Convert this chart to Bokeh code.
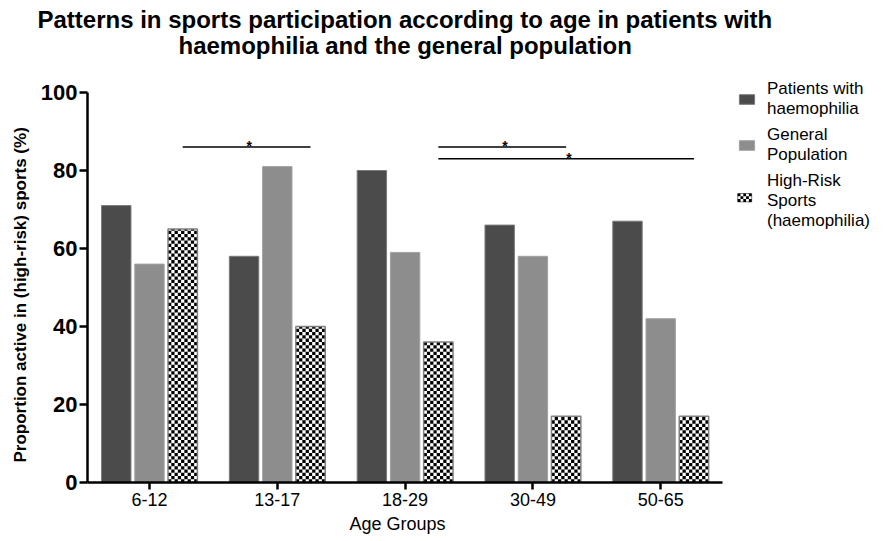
import math
from bokeh.plotting import figure
from bokeh.models import (Range1d, FixedTicker, ColumnDataSource, Legend, LegendItem, Title)
from bokeh.transform import dodge
from bokeh.core.properties import value
from bokeh.embed import file_html
from bokeh.resources import INLINE

# ---- data ----
age_groups = ["6-12", "13-17", "18-29", "30-49", "50-65"]
patients = [71, 58, 80, 66, 67]
general = [56, 81, 59, 58, 42]
high_risk = [65, 40, 36, 17, 17]
series_labels = ["Patients with\nhaemophilia", "General\nPopulation", "High-Risk\nSports\n(haemophilia)"]
y_ticks = [0, 20, 40, 60, 80, 100]
title_lines = ["Patterns in sports participation according to age in patients with",
               "haemophilia and the general population"]
x_label = "Age Groups"
y_label = "Proportion active in (high-risk) sports (%)"

# significance brackets: from group, to group (high-risk bars), height
sig_from = [0, 2, 2]
sig_to = [1, 3, 4]
sig_y = [86, 86, 83]
sig_text = ["*", "*", "*"]

FONT = "Liberation Sans"
OFF = 0.26
W = 0.23
X_AXIS_BOUNDS = (-0.485, 4.485)
Y_AXIS_BOUNDS = (0, 100)

# ---- layout (pixels) ----
FIG_W, FIG_H = 891, 541
FR_L, FR_B, FR_T = 86, 482, 58          # frame left / bottom / top
SX = (722 - FR_L) / (X_AXIS_BOUNDS[1] - X_AXIS_BOUNDS[0])   # px per x unit
SY = (FR_B - 92) / 100.0                                       # px per y unit
X_END = X_AXIS_BOUNDS[0] + (FIG_W - FR_L) / SX
Y_END = (FR_B - FR_T) / SY

def px_x(px):
    return X_AXIS_BOUNDS[0] + (px - FR_L) / SX

def px_y(py):
    return (FR_B - py) / SY

idx = list(range(len(age_groups)))
src = ColumnDataSource(dict(x=idx, patients=patients, general=general, high_risk=high_risk))

p = figure(width=FIG_W, height=FIG_H, output_backend="svg", toolbar_location=None,
           x_range=Range1d(X_AXIS_BOUNDS[0], X_END), y_range=Range1d(0, Y_END),
           min_border_left=FR_L, min_border_right=0, min_border_top=FR_T,
           min_border_bottom=FIG_H - FR_B)
p.outline_line_color = None
p.grid.visible = False
p.background_fill_color = "white"
p.border_fill_color = "white"

r1 = p.vbar(x=dodge("x", -OFF, range=p.x_range), top="patients", width=W, source=src,
            fill_color="#4b4b4b", line_color="#7a7a7a", line_width=1)
r2 = p.vbar(x=dodge("x", 0.0, range=p.x_range), top="general", width=W, source=src,
            fill_color="#8d8d8d", line_color="#a2a2a2", line_width=1)
r3 = p.vbar(x=dodge("x", OFF, range=p.x_range), top="high_risk", width=W, source=src,
            fill_color="white", line_color=None)

# checkerboard texture of the high-risk bars, built from the bar heights
NCOL = 9
cw = W / NCOL
ch = cw * SX / SY
ql, qr, qb, qt = [], [], [], []
for i, v in enumerate(high_risk):
    xl = i + OFF - W / 2
    for r in range(int(math.ceil(v / ch))):
        y0, y1 = r * ch, min(v, (r + 1) * ch)
        for c in range(NCOL):
            if (r + c) % 2 == 0:
                ql.append(xl + c * cw); qr.append(xl + (c + 1) * cw)
                qb.append(y0); qt.append(y1)
p.quad(left=ql, right=qr, bottom=qb, top=qt, fill_color="black", line_color=None)
p.vbar(x=dodge("x", OFF, range=p.x_range), top="high_risk", width=W, source=src,
       fill_alpha=0, line_color="#808080", line_width=1.5)

# significance lines
x0 = [g + OFF for g in sig_from]
x1 = [g + OFF for g in sig_to]
xm = [(a + b) / 2 for a, b in zip(x0, x1)]
sig_src = ColumnDataSource(dict(x0=x0, x1=x1, y=sig_y, xm=xm, t=sig_text))
p.segment(x0="x0", y0="y", x1="x1", y1="y", source=sig_src, line_color="black", line_width=1.5)
p.text(x="xm", y="y", text="t", source=sig_src, text_font=value(FONT), text_font_size="14px",
       text_font_style="bold", text_align="left", text_baseline="bottom", y_offset=7,
       text_color="black")

# axes
for ax in (p.xaxis[0], p.yaxis[0]):
    ax.axis_line_width = 2.5
    ax.axis_line_color = "black"
    ax.major_tick_line_width = 2.5
    ax.major_tick_line_color = "black"
    ax.minor_tick_line_color = None
    ax.major_tick_in = 0
    ax.major_tick_out = 8
    ax.major_label_text_color = "black"

p.yaxis.bounds = Y_AXIS_BOUNDS
p.yaxis.ticker = FixedTicker(ticks=y_ticks)
p.yaxis.major_label_text_font = FONT
p.yaxis.major_label_text_font_size = "22px"
p.yaxis.major_label_text_font_style = "bold"
p.yaxis.major_label_standoff = 2

p.xaxis.bounds = X_AXIS_BOUNDS
p.xaxis.ticker = FixedTicker(ticks=idx)
p.xaxis.major_label_overrides = {i: g for i, g in zip(idx, age_groups)}
p.xaxis.major_label_text_font = FONT
p.xaxis.major_label_text_font_size = "18px"
p.xaxis.major_label_standoff = 3
p.xaxis.major_tick_out = 7

# axis titles placed as side titles so they centre on the data region
p.add_layout(Title(text=x_label, align="left", offset=262, standoff=7,
                   text_font=FONT, text_font_size="18px", text_font_style="normal",
                   text_color="black"), "below")
p.add_layout(Title(text=y_label, align="left", offset=20, standoff=16,
                   text_font=FONT, text_font_size="17px", text_font_style="bold",
                   text_color="black"), "left")

# chart title (bottom line first; later ones stack outward)
p.add_layout(Title(text=title_lines[1], align="left", offset=91, standoff=-0.6,
                   text_font=FONT, text_font_size="24px", text_font_style="bold",
                   text_color="black"), "above")
p.add_layout(Title(text=title_lines[0], align="left", offset=-50, standoff=-5.2,
                   text_font=FONT, text_font_size="24px", text_font_style="bold",
                   text_color="black"), "above")

# legend swatch for the checkerboard series
SW_L, SW_T, CELL = 737, 193, 2.8
sw_l, sw_r, sw_b, sw_t = [], [], [], []
for r in range(3):
    for c in range(5):
        if (r + c) % 2 == 0:
            sw_l.append(px_x(SW_L + c * CELL)); sw_r.append(px_x(SW_L + (c + 1) * CELL))
            sw_t.append(px_y(SW_T + r * CELL)); sw_b.append(px_y(SW_T + (r + 1) * CELL))
p.quad(left=[px_x(SW_L)], right=[px_x(SW_L + 5 * CELL)], top=[px_y(SW_T)],
       bottom=[px_y(SW_T + 3 * CELL)], fill_color="white", line_color="#808080", line_width=1)
p.quad(left=sw_l, right=sw_r, bottom=sw_b, top=sw_t, fill_color="black", line_color=None)
dummy = p.quad(left=[], right=[], top=[], bottom=[], fill_alpha=0, line_alpha=0)

legend = Legend(items=[LegendItem(label=series_labels[0], renderers=[r1]),
                       LegendItem(label=series_labels[1], renderers=[r2]),
                       LegendItem(label=series_labels[2], renderers=[dummy])],
                location=(650, 251), orientation="vertical",
                label_text_font=FONT, label_text_font_size="17px", label_text_color="black",
                glyph_width=19, glyph_height=12, label_standoff=11, spacing=6,
                padding=0, margin=0, border_line_color=None, background_fill_alpha=0)
p.add_layout(legend, "center")

open("out.html", "w").write(file_html(p, INLINE))
